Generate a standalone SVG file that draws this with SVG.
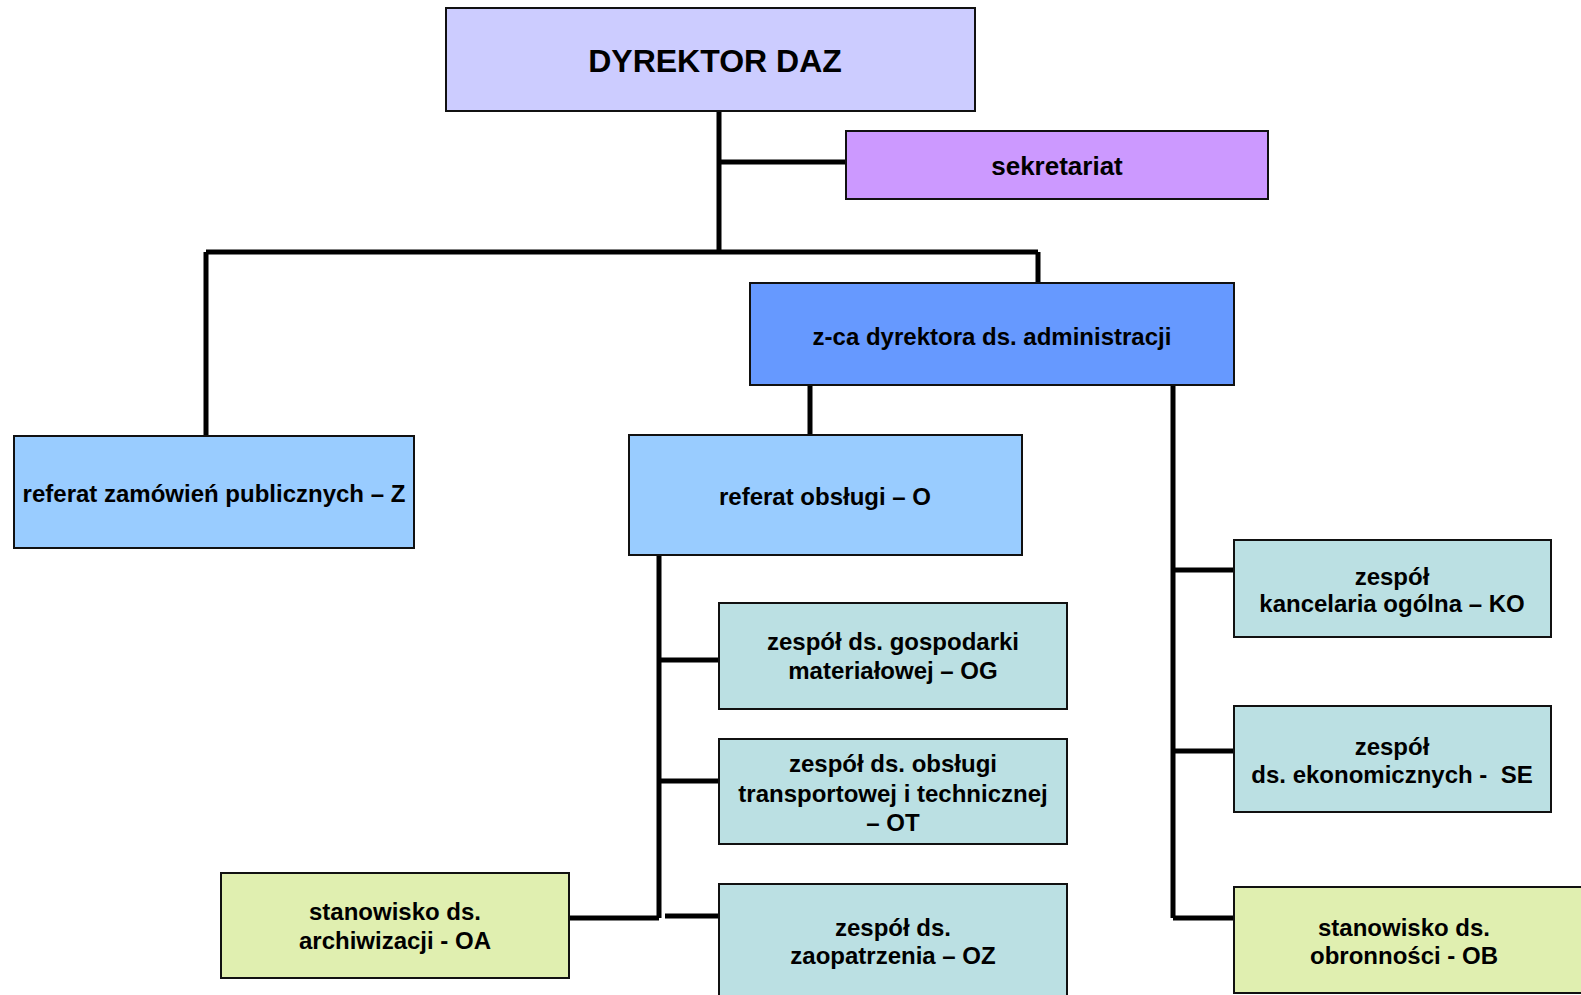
<svg xmlns="http://www.w3.org/2000/svg" width="1581" height="995" viewBox="0 0 1581 995">
<style>
.box{stroke:#111;stroke-width:2}
.t{font-family:"Liberation Sans",Arial,sans-serif;font-weight:bold;font-size:24px;fill:#000;text-anchor:middle}
.c{stroke:#000;stroke-width:5;fill:none}
</style>
<rect width="1581" height="995" fill="#fff"/>
<g id="connectors">
<path class="c" d="M719 111V252M719 162H846M206 252H1038M206 252V436M1038 252V283"/>
<path class="c" d="M810 385V435M1173 385V918M1173 570H1234M1173 751H1234M1173 918H1234"/>
<path class="c" d="M659 555V918M659 660H719M659 781H719M569 918H659M665 916H723"/>
</g>
<g id="dyrektor"><rect class="box" x="446" y="8" width="529" height="103" fill="#CCCCFF"/><text class="t" x="715" y="72" style="font-size:32px">DYREKTOR DAZ</text></g>
<g id="sekretariat"><rect class="box" x="846" y="131" width="422" height="68" fill="#CC99FF"/><text class="t" x="1057" y="175" style="font-size:26px">sekretariat</text></g>
<g id="zca"><rect class="box" x="750" y="283" width="484" height="102" fill="#6699FF"/><text class="t" x="992" y="345">z-ca dyrektora ds. administracji</text></g>
<g id="referat-z"><rect class="box" x="14" y="436" width="400" height="112" fill="#99CCFF"/><text class="t" x="214" y="502">referat zamówień publicznych – Z</text></g>
<g id="referat-o"><rect class="box" x="629" y="435" width="393" height="120" fill="#99CCFF"/><text class="t" x="825" y="505">referat obsługi – O</text></g>
<g id="og"><rect class="box" x="719" y="603" width="348" height="106" fill="#BBE0E3"/><text class="t" x="893" y="650">zespół ds. gospodarki</text><text class="t" x="893" y="679">materiałowej – OG</text></g>
<g id="ot"><rect class="box" x="719" y="739" width="348" height="105" fill="#BBE0E3"/><text class="t" x="893" y="772">zespół ds. obsługi</text><text class="t" x="893" y="802">transportowej i technicznej</text><text class="t" x="893" y="831">– OT</text></g>
<g id="oz"><rect class="box" x="719" y="884" width="348" height="120" fill="#BBE0E3"/><text class="t" x="893" y="936">zespół ds.</text><text class="t" x="893" y="964">zaopatrzenia – OZ</text></g>
<g id="oa"><rect class="box" x="221" y="873" width="348" height="105" fill="#E0EFB0"/><text class="t" x="395" y="920">stanowisko ds.</text><text class="t" x="395" y="949">archiwizacji - OA</text></g>
<g id="ko"><rect class="box" x="1234" y="540" width="317" height="97" fill="#BBE0E3"/><text class="t" x="1392" y="585">zespół</text><text class="t" x="1392" y="612">kancelaria ogólna – KO</text></g>
<g id="se"><rect class="box" x="1234" y="706" width="317" height="106" fill="#BBE0E3"/><text class="t" x="1392" y="755">zespół</text><text class="t" x="1392" y="783" xml:space="preserve">ds. ekonomicznych -  SE</text></g>
<g id="ob"><rect class="box" x="1234" y="887" width="350" height="106" fill="#E0EFB0"/><text class="t" x="1404" y="936">stanowisko ds.</text><text class="t" x="1404" y="964">obronności - OB</text></g>
</svg>
